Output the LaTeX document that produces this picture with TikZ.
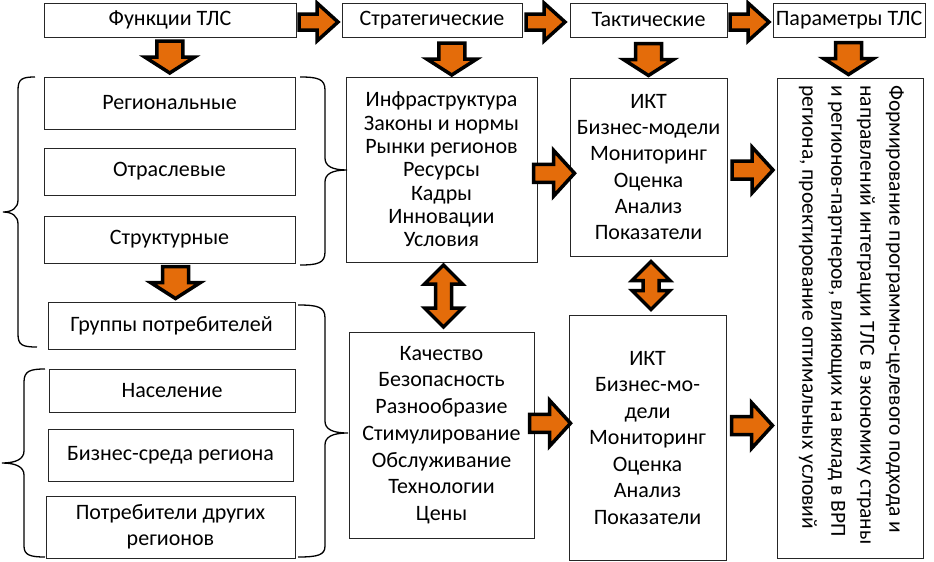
\documentclass[tikz,border=0pt]{standalone}
\usepackage{fontspec}
\setmainfont{Carlito}
\usetikzlibrary{calc,positioning}
\definecolor{arroworange}{HTML}{E46C0A}

\begin{document}
\begin{tikzpicture}[x=1pt,y=-1pt,
                    every node/.style={align=center},
                    box/.style={draw=black!85,line width=0.9pt,inner sep=0pt,
                                font=\fontsize{22}{26}\selectfont},
                    arrowbody/.style={fill=arroworange,draw=black,line width=3.5pt,line join=miter},
                    brace/.style={draw=black,line width=1.3pt},
                    harrow/.pic={\draw[arrowbody] (-20,-8) -- (-2,-8) -- (-2,-19) -- (19,0)
                                 -- (-2,19) -- (-2,8) -- (-20,8) -- cycle;},
                    marrow/.pic={\draw[arrowbody] (-21,-9) -- (-1,-9) -- (-1,-23) -- (20,0)
                                 -- (-1,23) -- (-1,9) -- (-21,9) -- cycle;},
                    varrow/.pic={\draw[arrowbody] (-16,-13) -- (0,-13) -- (0,-25) -- (16,0)
                                 -- (0,25) -- (0,13) -- (-16,13) -- cycle;},
                    darrow/.pic={\draw[arrowbody] (-#1,0) -- ({-#1+19},-19) -- ({-#1+19},-8)
                                 -- ({#1-19},-8) -- ({#1-19},-19) -- (#1,0) -- ({#1-19},19)
                                 -- ({#1-19},8) -- ({-#1+19},8) -- ({-#1+19},19) -- cycle;}]
  \useasboundingbox (0,0) rectangle (934,562);

  % top row
  \node[box,minimum width=252,minimum height=34] (fun) at (170,20) {Функции ТЛС};
  \node[box,minimum width=180,minimum height=34] (str) at (432,20) {Стратегические};
  \node[box,minimum width=157,minimum height=34] (tak) at (648.5,20) {Тактические};
  \node[box,minimum width=152,minimum height=34] (par) at (849,20) {Параметры ТЛС};

  % left column
  \node[box,minimum width=251,minimum height=52] (reg) at (169.5,103) {Региональные};
  \node[box,minimum width=251,minimum height=47] (otr) at (169.5,171.5) {Отраслевые};
  \node[box,minimum width=251,minimum height=47] (stru) at (169.5,239.5) {Структурные};
  \node[box,minimum width=247,minimum height=47] (grp) at (171.5,325.5) {Группы потребителей};
  \node[box,minimum width=246,minimum height=43] (nas) at (172,390.5) {Население};
  \node[box,minimum width=245,minimum height=52] (biz) at (170.5,455) {Бизнес-среда региона};
  \node[box,minimum width=249,minimum height=62] (pdr) at (170.5,527) {Потребители других\\регионов};

  % middle and tactical columns
  \node[box,minimum width=191,minimum height=185,font=\fontsize{22}{23.3}\selectfont] (s1)
    at (441.5,169.5)
    {Инфраструктура\\Законы и нормы\\Рынки регионов\\Ресурсы\\Кадры\\Инновации\\Условия};
  \node[box,minimum width=185,minimum height=206,font=\fontsize{22}{26.7}\selectfont] (s2)
    at (441.5,435)
    {Качество\\Безопасность\\Разнообразие\\Стимулирование\\Обслуживание\\Технологии\\Цены};
  \node[box,minimum width=157,minimum height=178,font=\fontsize{22}{26.2}\selectfont] (t1)
    at (648.5,167)
    {ИКТ\\Бизнес-модели\\Мониторинг\\Оценка\\Анализ\\Показатели};
  \node[box,minimum width=157,minimum height=245,font=\fontsize{22}{26.5}\selectfont] (t2)
    at (647.5,437.5)
    {\mbox{}\\[-12pt]ИКТ\\Бизнес-мо-\\дели\\Мониторинг\\Оценка\\Анализ\\Показатели};

  % result
  \node[box,minimum width=146,minimum height=480] (res) at (850,318) {};
  \node[rotate=-90,anchor=north west,inner sep=0pt,align=left,
        font=\fontsize{21.5}{29}\selectfont] (restext) at (904,85)
    {Формирование программно-целевого подхода и\\
     направлений интеграции ТЛС в экономику страны\\
     и регионов-партнеров, влияющих на вклад в ВРП\\
     региона, проектирование оптимальных условий};

  % block arrows
  \path ($(fun.east)!0.5!(str.west)+(0,2)$) pic {harrow}
        ($(str.east)!0.5!(tak.west)+(0,2)$) pic {harrow}
        ($(tak.east)!0.5!(par.west)+(0,2)$) pic {harrow};
  \path ($(fun.south)!0.5!(reg.north)$) pic[rotate=-90] {varrow}
        ($(str.south)!0.5!(s1.north)+(15,2)$) pic[rotate=-90] {varrow}
        ($(tak.south)!0.5!(t1.north)+(0,2)$) pic[rotate=-90] {varrow}
        ($(par.south)!0.5!(res.north)+(-1,1)$) pic[rotate=-90] {varrow}
        ($(stru.south)!0.5!(grp.north)+(5,0)$) pic[rotate=-90] {varrow};
  \path ($(s1.east)!0.5!(t1.west)+(1,5)$) pic {marrow}
        ($(s2.east)!0.5!(t2.west)+(-1,-13)$) pic {marrow}
        ($(t1.east)!0.5!(t1.east -| res.west)+(1,3)$) pic {marrow}
        ($(t2.east)!0.5!(t2.east -| res.west)+(1,-12)$) pic {marrow};
  \path ($(s1.south)!0.5!(s2.north)+(2,-1)$) pic[rotate=90] {darrow=31}
        ($(t1.south)!0.5!(t2.north)+(3,0)$) pic[rotate=90] {darrow=24};

  % braces
  \draw[brace] (35,77) .. controls (22,77) and (18,79) .. (18,90) -- (18,200)
    .. controls (18,208) and (12,212) .. (3,212) .. controls (12,212) and (18,216) .. (18,224)
    -- (18,334) .. controls (18,345) and (22,347) .. (37,347);
  \draw[brace] (300,77) .. controls (318,77) and (325,79) .. (325,90) -- (325,158)
    .. controls (325,166) and (332,170) .. (347,170) .. controls (332,170) and (325,174) .. (325,182)
    -- (325,252) .. controls (325,263) and (318,265) .. (300,265);
  \draw[brace] (298,305) .. controls (318,305) and (325,307) .. (325,318) -- (325,421)
    .. controls (325,429) and (332,433) .. (348,433) .. controls (332,433) and (325,437) .. (325,445)
    -- (325,546) .. controls (325,555) and (318,557) .. (298,557);
  \draw[brace] (45,369) .. controls (30,369) and (24,371) .. (24,382) -- (24,451)
    .. controls (24,459) and (16,463) .. (2,463) .. controls (16,463) and (24,467) .. (24,475)
    -- (24,546) .. controls (24,555) and (30,557) .. (45,557);
\end{tikzpicture}
\end{document}
